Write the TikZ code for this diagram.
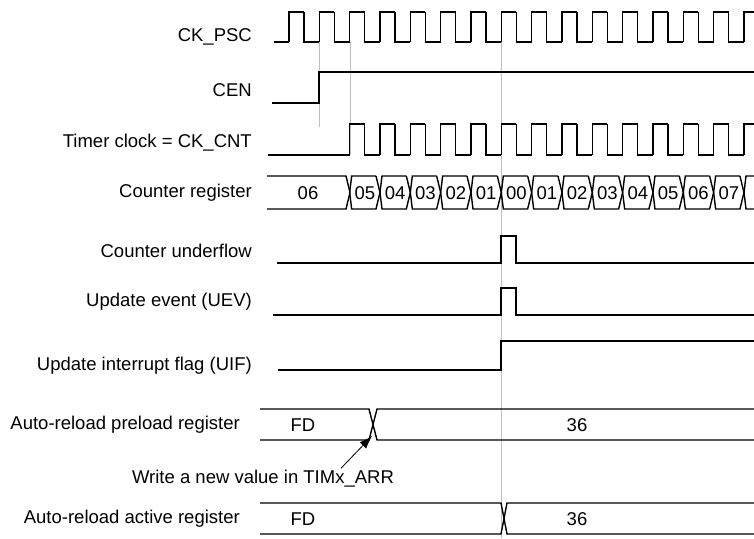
\documentclass[tikz,border=0pt]{standalone}
\usepackage{fontspec}
\setmainfont{Liberation Sans}
\usetikzlibrary{positioning,arrows.meta}

\begin{document}
\begin{tikzpicture}[x=1pt,y=-1pt,
    signal/.style ={line width=1.4pt},
    guide/.style ={line width=0.6pt, black!25},
    signame/.style ={anchor=east, inner sep=0pt, font=\fontsize{18.5}{21}\selectfont},
    value/.style ={inner sep=0pt, font=\fontsize{18.5}{21}\selectfont}]
   \useasboundingbox (0,0) rectangle (754,538);
   \def\per{30.33}

   % guide lines
   \draw[guide] (319,42) -- (319,127);
   \draw[guide] (350,42) -- (350,155);
   \draw[guide] (501,12) -- (501,538);

   % signal names
   \node[signame] (psc) at (252,37)  {CK\_PSC};
   \node[signame] (cen) at (252,90)  {CEN};
   \node[signame] (cnt) at (252,143) {Timer clock = CK\_CNT};
   \node[signame] (reg) at (252,193) {Counter register};
   \node[signame] (udf) at (252,251) {Counter underflow};
   \node[signame] (uev) at (252,302) {Update event (UEV)};
   \node[signame] (uif) at (252,366) {Update interrupt flag (UIF)};
   \node[signame] (arp) at (240,425) {Auto-reload preload register};
   \node[signame] (ara) at (240,519) {Auto-reload active register};

   % CK_PSC
   \draw[signal] (274,42) -- (289,42);
   \foreach \k in {0,...,15}{
     \draw[signal] (289+\k*\per,42) -- (289+\k*\per,12) -- ({min(304+\k*\per,754)},12);
   }
   \foreach \k in {0,...,14}{
     \draw[signal] (304+\k*\per,12) -- (304+\k*\per,42) -- (289+\k*\per+\per,42);
   }

   % CEN
   \draw[signal] (272,103) -- (319,103) -- (319,72) -- (754,72);

   % CK_CNT
   \draw[signal] (268,155) -- (350,155);
   \foreach \k in {2,...,15}{
     \draw[signal] (289+\k*\per,155) -- (289+\k*\per,124) -- ({min(304+\k*\per,754)},124);
   }
   \foreach \k in {2,...,14}{
     \draw[signal] (304+\k*\per,124) -- (304+\k*\per,155) -- (289+\k*\per+\per,155);
   }

   % counter register
   \draw[signal] (267,176) -- (346,176) -- (350,192.5) -- (346,209) -- (267,209);
   \node[value] (c06) at (308,193) {06};
   \foreach \v [count=\i from 2] in {05,04,03,02,01,00,01,02,03,04,05,06,07}{
     \pgfmathsetmacro{\a}{289+\i*\per}
     \pgfmathsetmacro{\b}{289+(\i+1)*\per}
     \draw[signal] (\a,192.5) -- (\a+2,176) -- (\b-4,176)
                   (\a,192.5) -- (\a+2,209) -- (\b-4,209) -- (\b,192.5) -- (\b-4,176);
     \node[value] at ({(\a+\b)/2},193) {\v};
   }
   \draw[signal] (744,192.5) -- (746,176) -- (754,176) (744,192.5) -- (746,209) -- (754,209);

   % counter underflow and update event
   \draw[signal] (277,263) -- (501,263) -- (501,236) -- (516,236) -- (516,263) -- (754,263);
   \draw[signal] (273,315) -- (501,315) -- (501,288) -- (516,288) -- (516,315) -- (754,315);

   % UIF
   \draw[signal] (278,370) -- (501,370) -- (501,341) -- (754,341);

   % auto-reload preload register
   \draw[signal] (260,409) -- (369,409) -- (377,440) -- (754,440);
   \draw[signal] (260,440) -- (369,440) -- (377,409) -- (754,409);
   \node[value] (fdp) at (303,425) {FD};
   \node[value] (v36p) at (577,425) {36};

   % auto-reload active register
   \draw[signal] (260,503) -- (501,503) -- (507,534) -- (754,534);
   \draw[signal] (260,534) -- (501,534) -- (507,503) -- (754,503);
   \node[value] (fda) at (303,519) {FD};
   \node[value] (v36a) at (577,519) {36};

   % write annotation
   \node[value] (wr) at (263,479) {Write a new value in TIMx\_ARR};
   \coordinate (wrpt) at (372,436);
   \draw[-{Latex[length=13pt,width=9pt]}, line width=0.8pt] (wr.north -| 341,0) ++(0,-2) -- (wrpt);
\end{tikzpicture}
\end{document}
